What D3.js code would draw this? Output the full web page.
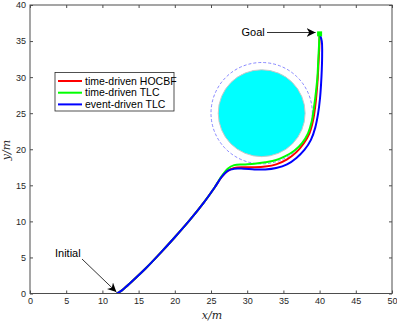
<!DOCTYPE html>
<html><head><meta charset="utf-8">
<script src="https://cdn.jsdelivr.net/npm/d3@7"></script>
<style>body{margin:0;background:#fff}svg{display:block}</style>
</head><body>
<script>
const xTicks = [0,5,10,15,20,25,30,35,40,45,50];
const yTicks = [0,5,10,15,20,25,30,35,40];
const seriesNames = ["time-driven HOCBF","time-driven TLC","event-driven TLC"];
const seriesColors = ["#ff0000","#00ff00","#0000ff"];
const hocbf = [[12,0],[12.5,0.3],[13,0.7],[14,1.6],[16,3.5],[18,5.6],[20,7.8],[22,10.1],[24,12.6],[25.5,14.7],[26.5,16.2],[27.3,17.0],[28.2,17.4],[29.5,17.5],[31,17.5],[32.5,17.6],[34,17.9],[35.5,18.6],[36.8,19.6],[37.8,20.8],[38.6,22.2],[39.1,24],[39.4,26],[39.6,28],[39.75,30],[39.85,32],[39.95,34],[40,36]];
const tlc = [[12,0],[12.5,0.3],[13,0.7],[14,1.6],[16,3.5],[18,5.6],[20,7.8],[22,10.1],[24,12.6],[25.5,14.7],[26.5,16.3],[27.3,17.3],[28.2,17.8],[29.5,17.9],[31,18.0],[32.5,18.2],[34,18.5],[35.2,19.0],[36.5,19.8],[37.6,20.9],[38.4,22.2],[38.9,23.8],[39.25,26],[39.5,28],[39.7,30],[39.8,32],[39.9,34],[40,36]];
const etlc = [[12,0],[12.5,0.3],[13,0.7],[14,1.6],[16,3.5],[18,5.6],[20,7.8],[22,10.1],[24,12.6],[25.5,14.7],[26.5,16.2],[27.3,17.0],[28.2,17.3],[29.5,17.3],[31,17.2],[32.5,17.2],[34,17.4],[35.5,17.9],[36.8,18.8],[37.9,19.9],[38.8,21.3],[39.4,23],[39.8,25],[40.05,27],[40.2,29],[40.3,31],[40.35,33],[40.3,35],[40,36]];
const obstacle = {cx:32, cy:25, r:6, rSafe:7};
const goal = [40,36];
const initial = [12,0];

const W=397,H=322;
const svg=d3.select("body").append("svg").attr("width",W).attr("height",H);
const x=d3.scaleLinear().domain([0,50]).range([30,392]);
const y=d3.scaleLinear().domain([0,40]).range([293.5,5]);
const axisCol="#4d4d4d", font="'Liberation Sans', Arial, sans-serif";

svg.append("defs").append("clipPath").attr("id","clip").append("rect")
  .attr("x",30).attr("y",5).attr("width",362).attr("height",288.5);

const g=svg.append("g").attr("clip-path","url(#clip)");
g.append("circle").attr("cx",x(obstacle.cx)).attr("cy",y(obstacle.cy))
  .attr("r",x(obstacle.cx+obstacle.r)-x(obstacle.cx))
  .attr("fill","#00ffff").attr("stroke","#c8c8c8").attr("stroke-width",1);
g.append("circle").attr("cx",x(obstacle.cx)).attr("cy",y(obstacle.cy))
  .attr("r",x(obstacle.cx+obstacle.rSafe)-x(obstacle.cx))
  .attr("fill","none").attr("stroke","#6b6bff").attr("stroke-width",0.8).attr("stroke-dasharray","3,2");

const line=d3.line().x(d=>x(d[0])).y(d=>y(d[1])).curve(d3.curveCatmullRom.alpha(0.5));
[hocbf,tlc,etlc].forEach((s,i)=>{
  g.append("path").attr("d",line(s)).attr("fill","none").attr("stroke",seriesColors[i]).attr("stroke-width",2);
});
g.append("rect").attr("x",x(goal[0])-2.5).attr("y",y(goal[1])-2.5).attr("width",5).attr("height",5).attr("fill","#00ff00");

svg.append("rect").attr("x",30).attr("y",5).attr("width",362).attr("height",288.5)
  .attr("fill","none").attr("stroke",axisCol).attr("stroke-width",1);

const xb=svg.append("g").attr("transform","translate(0,293.5)")
  .call(d3.axisBottom(x).tickValues(xTicks).tickSize(-3).tickPadding(4).tickFormat(d3.format("d")));
const xt=svg.append("g").attr("transform","translate(0,5)")
  .call(d3.axisTop(x).tickValues(xTicks).tickSize(-3).tickFormat(""));
const yl=svg.append("g").attr("transform","translate(30,0)")
  .call(d3.axisLeft(y).tickValues(yTicks).tickSize(-3).tickPadding(4).tickFormat(d3.format("d")));
const yr=svg.append("g").attr("transform","translate(392,0)")
  .call(d3.axisRight(y).tickValues(yTicks).tickSize(-3).tickFormat(""));
[xb,xt,yl,yr].forEach(a=>{
  a.select(".domain").remove();
  a.selectAll("line").attr("stroke",axisCol);
  a.selectAll("text").attr("fill","#262626").attr("font-family",font).attr("font-size",9);
});

svg.append("text").attr("x",212).attr("y",319).attr("text-anchor","middle")
  .attr("font-family","'DejaVu Serif', 'Liberation Serif', serif").attr("font-style","italic").attr("font-size",11)
  .attr("fill","#262626").text("x/m");
svg.append("text").attr("transform","translate(10,150) rotate(-90)").attr("text-anchor","middle")
  .attr("font-family","'DejaVu Serif', 'Liberation Serif', serif").attr("font-style","italic").attr("font-size",11)
  .attr("fill","#262626").text("y/m");

const lg=svg.append("g");
lg.append("rect").attr("x",55).attr("y",72.5).attr("width",119).attr("height",38.5)
  .attr("fill","#fff").attr("stroke","#262626").attr("stroke-width",0.8);
seriesNames.forEach((n,i)=>{
  const yy=81+i*11.7;
  lg.append("line").attr("x1",58).attr("x2",82).attr("y1",yy).attr("y2",yy).attr("stroke",seriesColors[i]).attr("stroke-width",2);
  lg.append("text").attr("x",85).attr("y",yy).attr("dy","0.35em").attr("font-family",font).attr("font-size",10.5)
    .attr("fill","#000").text(n);
});

const defs=svg.select("defs");
defs.append("marker").attr("id","ah").attr("viewBox","0 0 10 10").attr("refX",10).attr("refY",5)
  .attr("markerWidth",9).attr("markerHeight",9).attr("markerUnits","userSpaceOnUse").attr("orient","auto")
  .append("path").attr("d","M0,0 L10,5 L0,10 L3,5 Z").attr("fill","#000");
svg.append("text").attr("x",241.5).attr("y",32.5).attr("dy","0.35em").attr("font-family",font).attr("font-size",11).text("Goal");
svg.append("line").attr("x1",267).attr("y1",32.5).attr("x2",x(goal[0])-4).attr("y2",32.5)
  .attr("stroke","#000").attr("stroke-width",0.8).attr("marker-end","url(#ah)");
svg.append("text").attr("x",55).attr("y",253).attr("dy","0.35em").attr("font-family",font).attr("font-size",11).text("Initial");
svg.append("line").attr("x1",82).attr("y1",259).attr("x2",x(initial[0])-0.5).attr("y2",y(initial[1])-1.5)
  .attr("stroke","#000").attr("stroke-width",0.8).attr("marker-end","url(#ah)");
</script>
</body></html>
